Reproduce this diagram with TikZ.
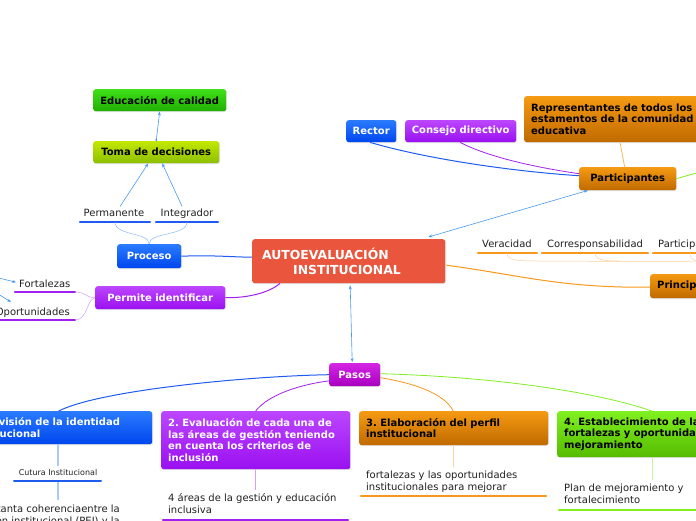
\documentclass[tikz,border=0pt]{standalone}
\usepackage{fontspec}
\setmainfont{DejaVu Sans}
\usetikzlibrary{arrows.meta,shadows,calc}
\frenchspacing
\definecolor{cline}{HTML}{4A98EE}
\definecolor{blueT}{HTML}{2A7BFF}\definecolor{blueB}{HTML}{0046EE}
\definecolor{purT}{HTML}{BC46FF}\definecolor{purB}{HTML}{9A10F0}
\definecolor{oraT}{HTML}{F59A12}\definecolor{oraB}{HTML}{C06A00}
\definecolor{grnT}{HTML}{40E01A}\definecolor{grnB}{HTML}{1FB000}
\definecolor{ygT}{HTML}{C2E800}\definecolor{ygB}{HTML}{8CBF00}
\definecolor{limT}{HTML}{80F020}\definecolor{limB}{HTML}{55BB00}
\definecolor{magT}{HTML}{D424E4}\definecolor{magB}{HTML}{A800C0}
\definecolor{redbox}{HTML}{E9563D}
\definecolor{cblue}{HTML}{1E5BF0}
\definecolor{cpur}{HTML}{A020F0}
\definecolor{cora}{HTML}{F7981C}
\definecolor{cgrn}{HTML}{80EE22}
\definecolor{lblue}{HTML}{A8C8FF}
\definecolor{lpur}{HTML}{D8A0F8}
\definecolor{lora}{HTML}{FAD09A}
\definecolor{lgrn}{HTML}{C4F4A0}
\definecolor{txt}{HTML}{202020}
\tikzset{
  bx/.style={rounded corners=2.5pt, inner sep=0pt, anchor=north west,
    font=\bfseries\fontsize{10}{11.7}\selectfont,
    drop shadow={opacity=0.25,shadow xshift=0.8pt,shadow yshift=-0.8pt}},
  bblue/.style={bx, top color=blueT, bottom color=blueB, text=white},
  bpur/.style={bx, top color=purT, bottom color=purB, text=white},
  bora/.style={bx, top color=oraT, bottom color=oraB, text=black},
  bgrn/.style={bx, top color=grnT, bottom color=grnB, text=black},
  byg/.style={bx, top color=ygT, bottom color=ygB, text=black},
  blim/.style={bx, top color=limT, bottom color=limB, text=black},
  bmag/.style={bx, top color=magT, bottom color=magB, text=white},
  lbl/.style={inner sep=0pt, text=txt, font=\fontsize{10}{12}\selectfont},
  ul/.style={line width=2.2pt, line cap=round},
  cn/.style={line width=0.6pt, cline},
  arr/.style={-{Stealth[length=4pt,width=3pt]}},
}
\begin{document}
\begin{tikzpicture}[x=1pt,y=-1pt]
\useasboundingbox (0,0) rectangle (696,520);
\clip (0,0) rectangle (696,520);

% ---------- left top branch ----------
\node[bgrn, minimum width=133pt, minimum height=22pt, align=center] (edu) at (93,89) {Educación de calidad};
\node[byg, minimum width=126pt, minimum height=22pt, align=center] (toma) at (93,141) {Toma de decisiones};
\draw[cn, {Circle[length=2pt]}-{Stealth[length=4pt,width=3pt]}] (toma.north) -- (edu.south);

\node[lbl, anchor=base] (perm) at (114,216) {Permanente};
\node[lbl, anchor=base] (integ) at (187,216) {Integrador};
\coordinate (permU) at (115,222);
\coordinate (integU) at (187,222);
\draw[ul, cblue] (80,222) -- (150,222);
\draw[ul, cblue] (156,222) -- (218,222);
\draw[cn, arr] ($(perm.north)+(6,-2)$) -- ($(toma.south)+(-8,0)$);
\draw[cn, arr] ($(integ.north)+(-5,-2)$) -- ($(toma.south)+(6,0)$);

\node[bblue, minimum width=64pt, minimum height=24pt, align=center] (proc) at (117,244) {Proceso};
\draw[line width=0.5pt, lblue!70!cline] (proc.north) .. controls (149,232) and (115,236) .. (permU);
\draw[line width=0.5pt, lblue!70!cline] (proc.north) .. controls (149,232) and (187,236) .. (integU);

% ---------- central node ----------
\node[bx, fill=redbox, text=white, minimum width=193pt, minimum height=44pt, text width=173pt, align=left,
  font=\bfseries\fontsize{12.4}{15}\selectfont] (auto) at (252,239) {AUTOEVALUACIÓN\\\hspace*{31pt}INSTITUCIONAL};
\draw[line width=1pt, cblue] (proc.east) .. controls (215,255) and (230,257) .. ($(auto.west)+(0,-4)$);

% ---------- permite identificar ----------
\node[bpur, minimum width=130pt, minimum height=23pt, align=center] (perm2) at (95,286) {Permite identificar};
\draw[line width=1pt, cpur] (perm2.east) .. controls (250,298) and (270,292) .. ($(auto.south west)+(28,0)$);
\node[lbl, anchor=base west] (fort) at (19,287) {Fortalezas};
\node[lbl, anchor=base east] (oport) at (70,315) {Oportunidades};
\draw[ul, cpur] (15,292) -- (75,292);
\draw[ul, cpur] (-10,320) -- (75,320);
\coordinate (fortU) at (75,292);
\coordinate (oportU) at (75,320);
\draw[line width=0.5pt, lpur] (perm2.west) .. controls (86,298) and (86,292) .. (fortU);
\draw[line width=0.5pt, lpur] (perm2.west) .. controls (86,300) and (88,320) .. (oportU);
\coordinate (inA) at (-5,277);
\coordinate (inB) at (-5,292);
\draw[cn, arr] (inA) -- ($(fort.west)+(-3,-1)$);
\draw[cn, arr] (inB) -- (11,302);

% ---------- participantes ----------
\node[bblue, minimum width=50pt, minimum height=22pt, align=center] (rector) at (346,120) {Rector};
\node[bpur, minimum width=111pt, minimum height=22pt, align=center] (consejo) at (405,120) {Consejo directivo};
\node[bora, minimum width=190pt, minimum height=46pt, text width=176pt, align=left] (repr) at (524,96)
  {Representantes de todos los\\estamentos de la comunidad\\educativa};
\node[bora, minimum width=97pt, minimum height=23pt, align=center] (part) at (579,167) {Participantes};
\draw[line width=1pt, cblue] ($(rector.south)+(-1,0)$) .. controls (430,160) and (520,172) .. ($(part.west)+(0,-3)$);
\draw[line width=0.8pt, cpur] ($(consejo.south)+(-0.5,0)$) .. controls (490,158) and (540,168) .. ($(part.west)+(0,-5)$);
\draw[line width=0.8pt, cora!70!white] ($(repr.south west)+(96,0)$) -- ($(part.north)+(-3,0)$);
\coordinate (outG) at (700,172);
\draw[line width=0.8pt, cgrn] (part.east) -- (outG);
\draw[cn, {Stealth[length=4pt,width=3pt]}-{Stealth[length=4pt,width=3pt]}] ($(auto.north east)+(-17,-2)$) -- ($(part.south west)+(9,0)$);

% ---------- principios ----------
\node[bora, minimum width=80pt, minimum height=24pt, text width=66pt, align=left] (princ) at (650,274) {Principios};
\draw[line width=1pt, cora] ($(auto.east)+(1,4)$) .. controls (520,275) and (560,288) .. ($(princ.west)+(0,1)$);
\node[lbl, anchor=base] (ver) at (507,247) {Veracidad};
\node[lbl, anchor=base] (cor) at (595,247) {Corresponsabilidad};
\node[lbl, anchor=base west] (parti) at (658,247) {Participación};
\draw[ul, cora] (478,253) -- (537,253);
\draw[ul, cora] (542,253) -- (648,253);
\draw[ul, cora] (653,253) -- (730,253);
\coordinate (prinIn) at (740,262);
\draw[line width=0.5pt, lora] (ver.south |- 0,253) .. controls (507,260) and (515,261) .. (540,261) -- (prinIn);
\draw[line width=0.5pt, lora] (cor.south |- 0,253) .. controls (595,260) and (603,261) .. (620,261);
\draw[line width=0.5pt, lora] (690,253) .. controls (690,260) and (695,261) .. (700,261);

% ---------- pasos ----------
\node[bmag, minimum width=51pt, minimum height=23pt, align=center] (pasos) at (329,363) {Pasos};
\draw[cn, {Stealth[length=4pt,width=3pt]}-{Stealth[length=4pt,width=3pt]}] ($(auto.south)+(1.5,2)$) -- ($(pasos.north)+(-2.5,-1)$);

\node[bblue, minimum width=189pt, minimum height=33pt, text width=175pt, align=left] (s1) at (-37,411)
  {1. Revisión de la identidad\\institucional};
\node[bpur, minimum width=189pt, minimum height=58pt, text width=175pt, align=left] (s2) at (161,411)
  {2. Evaluación de cada una de\\las áreas de gestión teniendo\\en cuenta los criterios de\\inclusión};
\node[bora, minimum width=189pt, minimum height=34pt, text width=175pt, align=left] (s3) at (359,411)
  {3. Elaboración del perfil\\institucional};
\node[blim, minimum width=190pt, minimum height=46pt, text width=176pt, align=left] (s4) at (557,411)
  {4. Establecimiento de las\\fortalezas y oportunidades de\\mejoramiento};

\draw[line width=1pt, cblue] (pasos.west) .. controls (250,376) and (100,390) .. ($(s1.north)+(1,0)$);
\draw[line width=0.8pt, cpur] ($(pasos.south west)+(4,-6)$) .. controls (300,384) and (268,395) .. (s2.north);
\draw[line width=0.8pt, cora] ($(pasos.east)+(0,3)$) .. controls (420,384) and (446,396) .. ($(s3.north)+(-0.5,0)$);
\draw[line width=0.8pt, cgrn] ($(pasos.east)+(0,-1)$) .. controls (500,377) and (600,393) .. ($(s4.north)+(-0.5,0)$);

% step 1 details
\node[lbl, anchor=base, font=\fontsize{8}{10}\selectfont] (cut) at (58,475) {Cutura Institucional};
\draw[ul, cblue, line width=2pt] (14,481) -- (101,481);
\draw[line width=1.5pt, lblue] (s1.south -| 58,0) -- ($(cut.north)+(0,-3)$);
\coordinate (cutU) at (58,482);
\coordinate (cutD) at (58,500);
\draw[line width=1.5pt, lblue] (cutU) -- (cutD);
\node[lbl, anchor=base east] (t1a) at (120,512) {Bastanta coherenciaentre la};
\node[lbl, anchor=base east] (t1b) at (120,524) {Misión institucional (PEI) y la};

% step 2 details
\node[lbl, anchor=base west] (t2a) at (168,501) {4 áreas de la gestión y educación};
\node[lbl, anchor=base west] (t2b) at (168,513) {inclusiva};
\draw[line width=1pt, lpur] (s2.south) -- ($(t2a.north -| s2.south)+(0,-3)$);
\draw[ul, cpur] (163,520) -- (348,520);

% step 3 details
\node[lbl, anchor=base west] (t3a) at (366,478) {fortalezas y las oportunidades};
\node[lbl, anchor=base west] (t3b) at (366,490) {institucionales para mejorar};
\draw[line width=1pt, lora] (s3.south) -- ($(t3a.north -| s3.south)+(0,-3)$);
\draw[ul, cora] (361,496) -- (546,496);

% step 4 details
\node[lbl, anchor=base west] (t4a) at (564,491) {Plan de mejoramiento y};
\node[lbl, anchor=base west] (t4b) at (564,503) {fortalecimiento};
\draw[line width=1pt, lgrn] (s4.south) -- ($(t4a.north -| s4.south)+(0,-3)$);
\draw[ul, cgrn] (559,510) -- (710,510);
\end{tikzpicture}
\end{document}
